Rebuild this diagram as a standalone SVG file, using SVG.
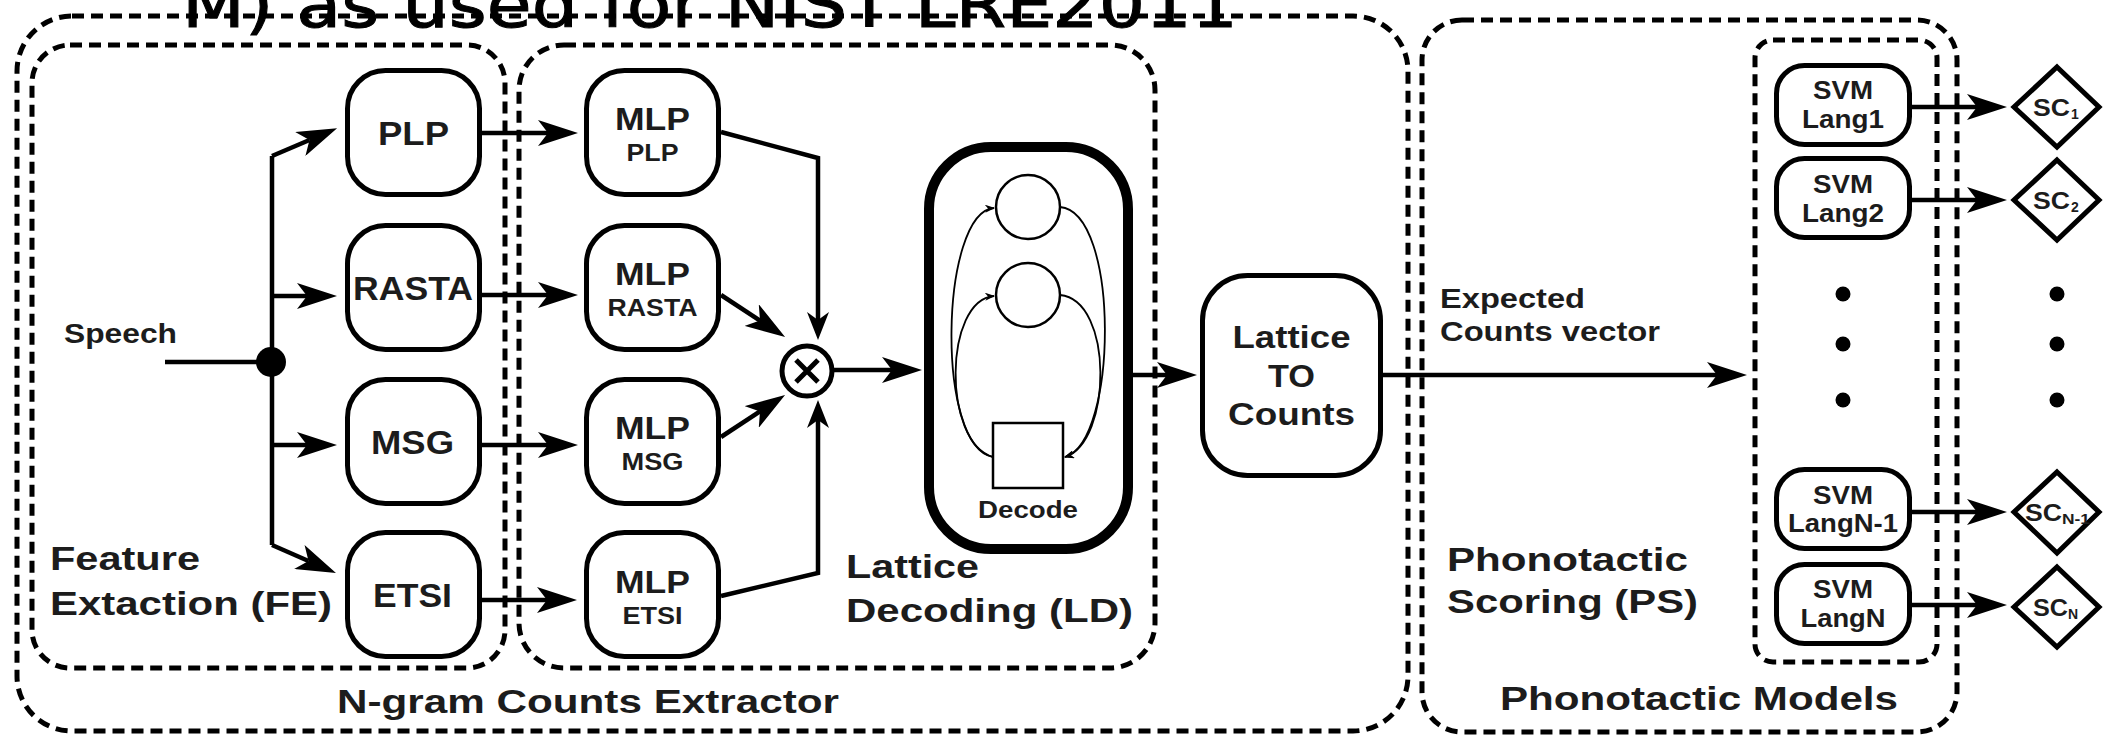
<svg xmlns="http://www.w3.org/2000/svg" width="2110" height="737" viewBox="0 0 2110 737">
<style>
.grp{fill:none;stroke:#000;stroke-width:5;stroke-dasharray:12 7}
.node{fill:#fff;stroke:#000;stroke-width:5}
.con{fill:none;stroke:#000;stroke-width:4.5}
.thin{fill:none;stroke:#000;stroke-width:1.8}
text{font-family:"Liberation Sans",Arial,sans-serif;font-weight:bold;fill:#1c1c1c}
.c{text-anchor:middle}
.big{font-size:33px}
.box{font-size:34px}
.sub{font-size:24px}
.svm{font-size:25px}
.sc{font-size:23px}
.scs{font-size:14px}
</style>
<defs>
<marker id="ah" viewBox="0 0 40 26" refX="10" refY="13" markerWidth="40" markerHeight="26" markerUnits="userSpaceOnUse" orient="auto"><path d="M0,0 L40,13 L0,26 L10,13 Z" fill="#000"/></marker>
<marker id="ahs" viewBox="0 0 28 22" refX="8" refY="11" markerWidth="28" markerHeight="22" markerUnits="userSpaceOnUse" orient="auto"><path d="M0,0 L28,11 L0,22 L8,11 Z" fill="#000"/></marker>
<marker id="aht" viewBox="0 0 10 8" refX="9" refY="4" markerWidth="10" markerHeight="8" markerUnits="userSpaceOnUse" orient="auto"><path d="M0,0 L10,4 L0,8 L3,4 Z" fill="#000"/></marker>
</defs>
<rect width="2110" height="737" fill="#fff"/>

<g id="groups">
<rect class="grp" x="17" y="16" width="1391" height="715" rx="55"/>
<rect class="grp" x="32" y="45" width="473" height="623" rx="38"/>
<rect class="grp" x="519" y="45" width="636" height="623" rx="45"/>
<rect class="grp" x="1422" y="20" width="535" height="712" rx="40"/>
<rect class="grp" x="1755" y="40" width="182" height="622" rx="18"/>
</g>

<g id="title">
<text x="182" y="27" style="font-family:'DejaVu Sans',sans-serif;font-weight:normal;font-size:64px;fill:#000;stroke:#000;stroke-width:1" textLength="1056" lengthAdjust="spacingAndGlyphs">M) as used for NIST LRE2011</text>
</g>

<g id="labels">
<text class="big" x="50" y="570" textLength="150" lengthAdjust="spacingAndGlyphs">Feature</text>
<text class="big" x="50" y="615" textLength="282" lengthAdjust="spacingAndGlyphs">Extaction (FE)</text>
<text class="big" x="846" y="578" textLength="133" lengthAdjust="spacingAndGlyphs">Lattice</text>
<text class="big" x="846" y="622" textLength="287" lengthAdjust="spacingAndGlyphs">Decoding (LD)</text>
<text class="big" x="337" y="713" textLength="502" lengthAdjust="spacingAndGlyphs">N-gram Counts Extractor</text>
<text class="big" x="1447" y="571" textLength="241" lengthAdjust="spacingAndGlyphs">Phonotactic</text>
<text class="big" x="1447" y="613" textLength="251" lengthAdjust="spacingAndGlyphs">Scoring (PS)</text>
<text class="big" x="1500" y="710" textLength="398" lengthAdjust="spacingAndGlyphs">Phonotactic Models</text>
<text x="64" y="343" style="font-size:28px" textLength="113" lengthAdjust="spacingAndGlyphs">Speech</text>
<text x="1440" y="308" style="font-size:28px" textLength="145" lengthAdjust="spacingAndGlyphs">Expected</text>
<text x="1440" y="341" style="font-size:28px" textLength="220" lengthAdjust="spacingAndGlyphs">Counts vector</text>
</g>

<g id="connectors">
<path class="con" d="M165,362 H272"/>
<path class="con" d="M272,156 V545"/>
<path class="con" d="M272,156 L309.5,140" marker-end="url(#ah)"/>
<path class="con" d="M272,296 H307" marker-end="url(#ah)"/>
<path class="con" d="M272,445 H307" marker-end="url(#ah)"/>
<path class="con" d="M272,545 L308.5,561" marker-end="url(#ah)"/>
<path class="con" d="M482,133 H548" marker-end="url(#ah)"/>
<path class="con" d="M482,295 H548" marker-end="url(#ah)"/>
<path class="con" d="M482,445 H548" marker-end="url(#ah)"/>
<path class="con" d="M482,600 H547" marker-end="url(#ah)"/>
<path class="con" d="M721,132 L818,158 V320" marker-end="url(#ahs)"/>
<path class="con" d="M721,596 L818,573 V420" marker-end="url(#ahs)"/>
<path class="con" d="M721,295 L760,320.6" marker-end="url(#ah)"/>
<path class="con" d="M721,437 L760,411.4" marker-end="url(#ah)"/>
<path class="con" d="M832,370 H892" marker-end="url(#ah)"/>
<path class="con" d="M1133,375 H1167" marker-end="url(#ah)"/>
<path class="con" d="M1383,375 H1717" marker-end="url(#ah)"/>
<path class="con" d="M1912,107 H1977" marker-end="url(#ah)"/>
<path class="con" d="M1912,200 H1977" marker-end="url(#ah)"/>
<path class="con" d="M1912,512 H1977" marker-end="url(#ah)"/>
<path class="con" d="M1912,605 H1977" marker-end="url(#ah)"/>
</g>

<g id="junction"><circle cx="271" cy="362" r="15" fill="#000"/></g>

<g id="PLP"><rect class="node" x="347.5" y="70.5" width="132" height="124" rx="38"/><text class="box c" x="413.5" y="145" textLength="71" lengthAdjust="spacingAndGlyphs">PLP</text></g>
<g id="RASTA"><rect class="node" x="347.5" y="225.5" width="132" height="124" rx="38"/><text class="box c" x="413" y="300" textLength="120" lengthAdjust="spacingAndGlyphs">RASTA</text></g>
<g id="MSG"><rect class="node" x="347.5" y="379.5" width="132" height="124" rx="38"/><text class="box c" x="412.5" y="454" textLength="83" lengthAdjust="spacingAndGlyphs">MSG</text></g>
<g id="ETSI"><rect class="node" x="347.5" y="532.5" width="132" height="124" rx="38"/><text class="box c" x="412.5" y="607" textLength="79" lengthAdjust="spacingAndGlyphs">ETSI</text></g>

<g id="MLP_PLP"><rect class="node" x="586.5" y="70.5" width="132" height="124" rx="38"/><text class="c" style="font-size:32px" x="652.5" y="130" textLength="75" lengthAdjust="spacingAndGlyphs">MLP</text><text class="sub c" x="652.5" y="161" textLength="52" lengthAdjust="spacingAndGlyphs">PLP</text></g>
<g id="MLP_RASTA"><rect class="node" x="586.5" y="225.5" width="132" height="124" rx="38"/><text class="c" style="font-size:32px" x="652.5" y="285" textLength="75" lengthAdjust="spacingAndGlyphs">MLP</text><text class="sub c" x="652.5" y="316" textLength="90" lengthAdjust="spacingAndGlyphs">RASTA</text></g>
<g id="MLP_MSG"><rect class="node" x="586.5" y="379.5" width="132" height="124" rx="38"/><text class="c" style="font-size:32px" x="652.5" y="439" textLength="75" lengthAdjust="spacingAndGlyphs">MLP</text><text class="sub c" x="652.5" y="470" textLength="62" lengthAdjust="spacingAndGlyphs">MSG</text></g>
<g id="MLP_ETSI"><rect class="node" x="586.5" y="532.5" width="132" height="124" rx="38"/><text class="c" style="font-size:32px" x="652.5" y="593" textLength="75" lengthAdjust="spacingAndGlyphs">MLP</text><text class="sub c" x="652.5" y="624" textLength="60" lengthAdjust="spacingAndGlyphs">ETSI</text></g>

<g id="combine"><circle class="node" cx="807" cy="371" r="25"/><path d="M796,360 L818,382 M818,360 L796,382" stroke="#000" stroke-width="5" fill="none"/></g>

<g id="lattice_decoding">
<rect x="929" y="147" width="199" height="402" rx="62" fill="#fff" stroke="#000" stroke-width="10"/>
<circle cx="1028" cy="207" r="32" fill="#fff" stroke="#000" stroke-width="2.5"/>
<circle cx="1028" cy="295" r="32" fill="#fff" stroke="#000" stroke-width="2.5"/>
<rect x="993" y="423" width="70" height="65" fill="#fff" stroke="#000" stroke-width="2.5"/>
<path class="thin" d="M993,457 C935,448 940,212 994,208" marker-end="url(#aht)"/>
<path class="thin" d="M993,457 C942,442 944,300 994,296" marker-end="url(#aht)"/>
<path class="thin" d="M1060,207 C1120,212 1118,442 1065,457" marker-end="url(#aht)"/>
<path class="thin" d="M1060,295 C1114,300 1112,442 1065,457" marker-end="url(#aht)"/>
<text class="sub c" x="1028" y="518" textLength="100" lengthAdjust="spacingAndGlyphs">Decode</text>
</g>

<g id="lattice_to_counts"><rect class="node" x="1202.5" y="275.5" width="178" height="200" rx="45"/>
<text class="c" style="font-size:31px" x="1291.5" y="348" textLength="118" lengthAdjust="spacingAndGlyphs">Lattice</text>
<text class="c" style="font-size:31px" x="1291.5" y="387" textLength="47" lengthAdjust="spacingAndGlyphs">TO</text>
<text class="c" style="font-size:31px" x="1291.5" y="425" textLength="127" lengthAdjust="spacingAndGlyphs">Counts</text></g>

<g id="SVM1"><rect class="node" x="1776.5" y="65.5" width="133" height="79" rx="28"/><text class="svm c" x="1843" y="99" textLength="60" lengthAdjust="spacingAndGlyphs">SVM</text><text class="svm c" x="1843" y="128" textLength="82" lengthAdjust="spacingAndGlyphs">Lang1</text></g>
<g id="SVM2"><rect class="node" x="1776.5" y="158.5" width="133" height="79" rx="28"/><text class="svm c" x="1843" y="193" textLength="60" lengthAdjust="spacingAndGlyphs">SVM</text><text class="svm c" x="1843" y="222" textLength="82" lengthAdjust="spacingAndGlyphs">Lang2</text></g>
<g id="SVMN1"><rect class="node" x="1776.5" y="469.5" width="133" height="79" rx="28"/><text class="svm c" x="1843" y="504" textLength="60" lengthAdjust="spacingAndGlyphs">SVM</text><text class="svm c" x="1843" y="532" textLength="110" lengthAdjust="spacingAndGlyphs">LangN-1</text></g>
<g id="SVMN"><rect class="node" x="1776.5" y="564.5" width="133" height="79" rx="28"/><text class="svm c" x="1843" y="598" textLength="60" lengthAdjust="spacingAndGlyphs">SVM</text><text class="svm c" x="1843" y="627" textLength="85" lengthAdjust="spacingAndGlyphs">LangN</text></g>

<g id="dots">
<circle cx="1843" cy="294" r="7.5"/><circle cx="1843" cy="344" r="7.5"/><circle cx="1843" cy="400" r="7.5"/>
<circle cx="2057" cy="294" r="7.5"/><circle cx="2057" cy="344" r="7.5"/><circle cx="2057" cy="400" r="7.5"/>
</g>

<g id="SC1"><path class="node" d="M2057,67 L2099,107 L2057,147 L2014,107 Z"/><text class="sc" x="2033" y="116" textLength="37" lengthAdjust="spacingAndGlyphs">SC</text><text class="scs" x="2071" y="119">1</text></g>
<g id="SC2"><path class="node" d="M2057,160 L2099,200 L2057,240 L2014,200 Z"/><text class="sc" x="2033" y="209" textLength="37" lengthAdjust="spacingAndGlyphs">SC</text><text class="scs" x="2071" y="212">2</text></g>
<g id="SCN1"><path class="node" d="M2057,472 L2099,512 L2057,553 L2014,512 Z"/><text class="sc" x="2025" y="521" textLength="37" lengthAdjust="spacingAndGlyphs">SC</text><text class="scs" x="2062" y="524" textLength="28" lengthAdjust="spacingAndGlyphs">N-1</text></g>
<g id="SCN"><path class="node" d="M2057,567 L2099,607 L2057,647 L2014,607 Z"/><text class="sc" x="2033" y="616" textLength="35" lengthAdjust="spacingAndGlyphs">SC</text><text class="scs" x="2068" y="619">N</text></g>
</svg>
